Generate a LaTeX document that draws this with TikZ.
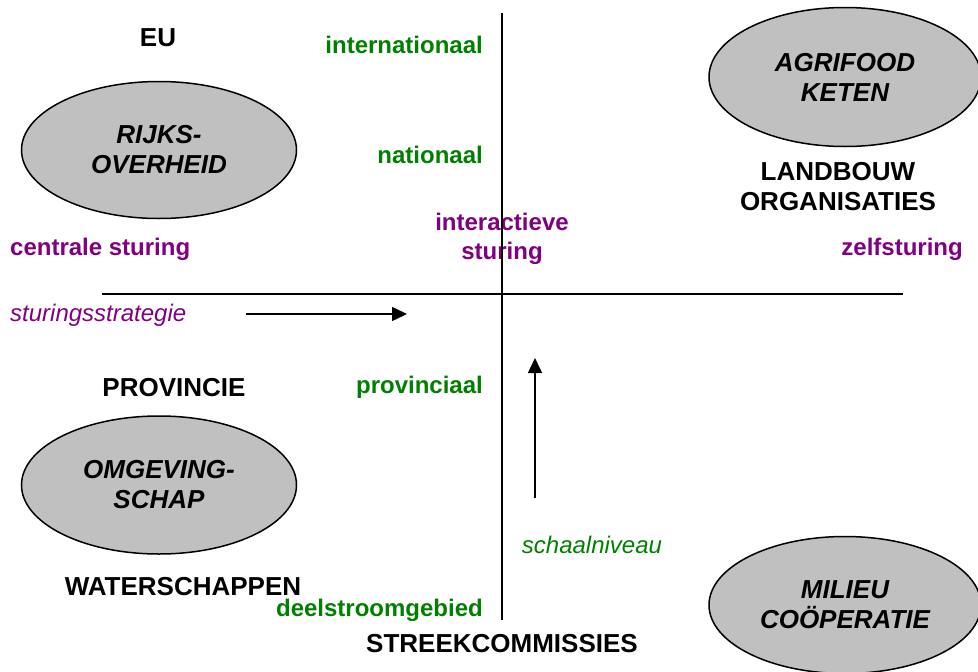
\documentclass[tikz,border=0pt]{standalone}
\usepackage{fontspec}
\setmainfont{Liberation Sans}
\usetikzlibrary{shapes.geometric, arrows.meta, positioning}
\definecolor{colorLevel}{RGB}{0, 128, 0}
\definecolor{colorSteer}{RGB}{128, 0, 128}
\definecolor{colorActor}{RGB}{192, 192, 192}
\tikzstyle{actor} = [ellipse, draw=black, line width=1.5pt, fill=colorActor, minimum width=275pt, minimum height=137pt, inner sep=0pt, align=center, font=\fontsize{26}{30}\selectfont\bfseries\itshape]
\tikzstyle{party} = [align=center, text=black, font=\fontsize{26}{30}\selectfont\bfseries]
\tikzstyle{level} = [anchor=east, inner sep=0pt, text=colorLevel, font=\fontsize{24}{29}\selectfont\bfseries]
\tikzstyle{steer} = [align=center, text=colorSteer, font=\fontsize{24}{29}\selectfont\bfseries]
\tikzstyle{axis} = [line width=1.5pt]
\tikzstyle{arrow} = [line width=1.5pt, -{Triangle[length=15pt, width=14pt]}]

\begin{document}
\begin{tikzpicture}[x=1pt, y=-1pt]
	\useasboundingbox (0,0) rectangle (978,672);

	% actors
	\node (rijksOverheid)[actor] at (159,150) {RIJKS-\\OVERHEID};
	\node (agrifoodKeten)[actor, minimum width=272pt, minimum height=139pt] at (845,77) {AGRIFOOD\\KETEN};
	\node (omgevingSchap)[actor, minimum height=138pt] at (159,485) {OMGEVING-\\SCHAP};
	\node (milieuCoop)[actor, minimum width=272pt, minimum height=137pt] at (845,605) {MILIEU\\COÖPERATIE};

	% parties
	\node (eu)[party] at (158,38) {EU};
	\node (landbouwOrg)[party] at (838,187) {LANDBOUW\\ORGANISATIES};
	\node (provincie)[party] at (174,388) {PROVINCIE};
	\node (waterschappen)[party] at (183,587) {WATERSCHAPPEN};
	\node (streekComm)[party] at (502,644) {STREEKCOMMISSIES};

	% scale levels
	\node (lvlInternational)[level] at (483,45) {internationaal};
	\node (lvlNational)[level] at (483,155) {nationaal};
	\node (lvlProvincial)[level] at (483,387) {provinciaal};
	\node (lvlBasin)[level] at (483,610) {deelstroomgebied};

	% steering
	\node (steerCentral)[steer, anchor=west, inner sep=0pt] at (10,249) {centrale sturing};
	\node (steerInteractive)[steer] at (502,239) {interactieve\\sturing};
	\node (steerSelf)[steer, anchor=east, inner sep=0pt] at (963,249) {zelfsturing};

	% axis labels
	\node (lblStrategy)[anchor=west, inner sep=0pt, text=colorSteer, font=\fontsize{24}{29}\selectfont\itshape] at (10,315) {sturingsstrategie};
	\node (lblScale)[text=colorLevel, font=\fontsize{24}{29}\selectfont\itshape] at (592,545) {schaalniveau};

	% axis ends
	\coordinate (axisTop) at (502,13);
	\coordinate (axisBottom) at (502,620);
	\coordinate (axisLeft) at (102,294);
	\coordinate (axisRight) at (903,294);
	\coordinate (strategyStart) at (246,314);
	\coordinate (strategyEnd) at (407,314);
	\coordinate (scaleStart) at (535,498);
	\coordinate (scaleEnd) at (535,358);

	% lines and arrows
	\draw[axis] (axisTop) -- (axisBottom);
	\draw[axis] (axisLeft) -- (axisRight);
	\draw[arrow] (strategyStart) -- (strategyEnd);
	\draw[arrow] (scaleStart) -- (scaleEnd);

\end{tikzpicture}
\end{document}
